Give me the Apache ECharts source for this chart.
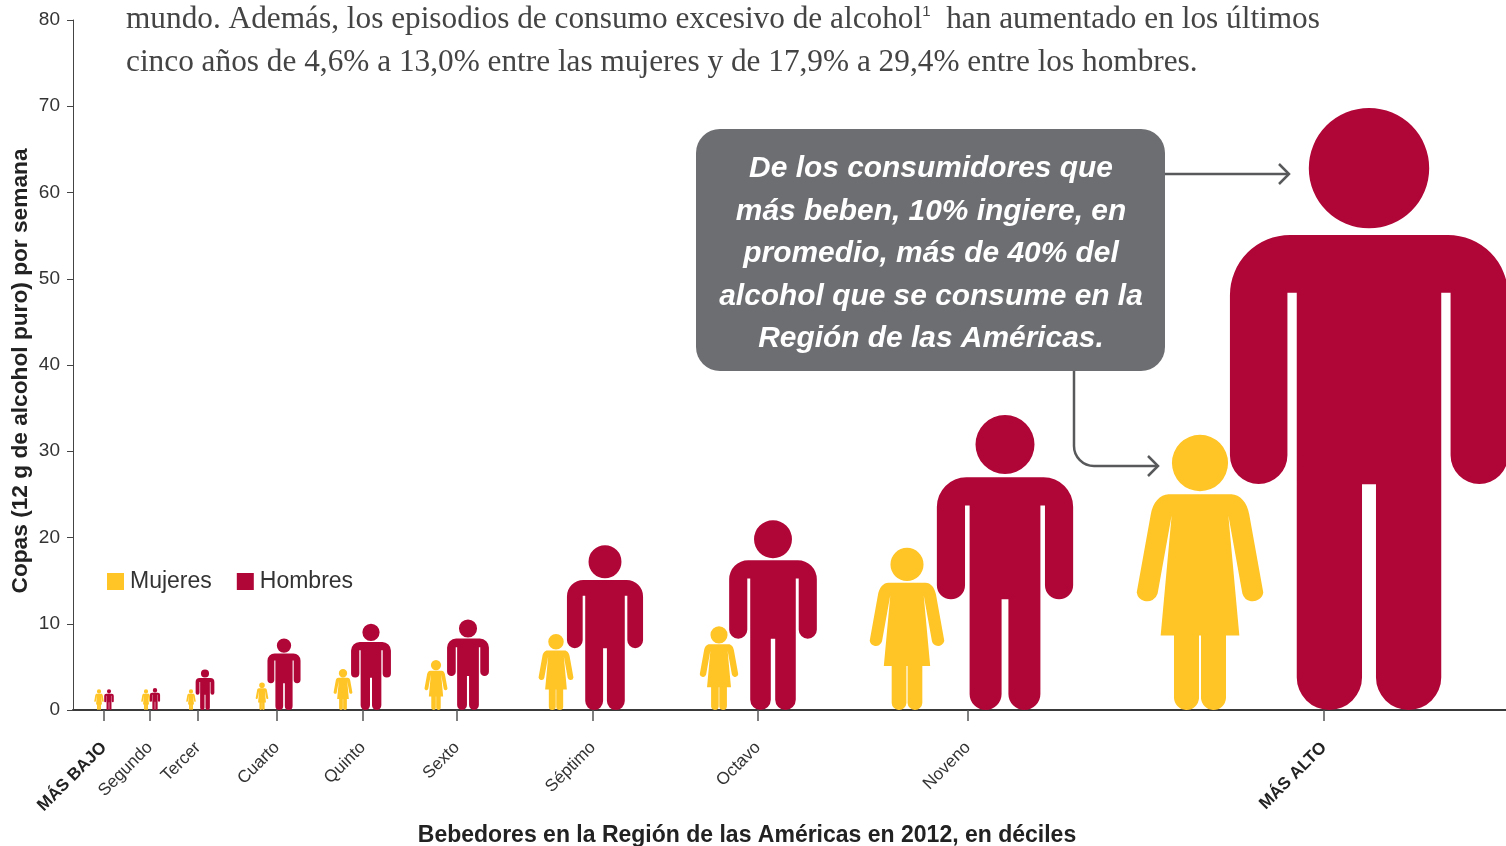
<!DOCTYPE html>
<html>
<head>
<meta charset="utf-8">
<title>Copas por semana por decil de bebedores</title>
<style>
html, body { margin: 0; padding: 0; background: #fff; }
#chart { width: 1506px; height: 846px; }
</style>
<script src="https://cdn.jsdelivr.net/npm/echarts@6/dist/echarts.min.js"></script>
</head>
<body>
<div id="chart"></div>
<script>
// Decile names and their place along the horizontal axis
const deciles = ['MÁS BAJO', 'Segundo', 'Tercer', 'Cuarto', 'Quinto', 'Sexto', 'Séptimo', 'Octavo', 'Noveno', 'MÁS ALTO'];
const tickPos = [31, 77, 125, 204, 290, 384, 520, 685, 895, 1251];
const womenPos = [26, 73, 118, 189, 270, 363, 483, 646, 834, 1127];
const menPos = [36, 82, 132, 211, 298, 395, 532, 700, 932, 1296];

// Drinks of pure alcohol per week
const womenDrinks = [2.4, 2.4, 2.4, 3.2, 4.75, 5.8, 8.8, 9.7, 18.8, 31.9];
const menDrinks = [2.4, 2.55, 4.7, 8.3, 10, 10.5, 19.1, 22, 34.2, 69.8];

const paragraph = [
  'mundo. Además, los episodios de consumo excesivo de alcohol{sup|1}  han aumentado en los últimos',
  'cinco años de 4,6% a 13,0% entre las mujeres y de 17,9% a 29,4% entre los hombres.'
];
const calloutLines = [
  'De los consumidores que',
  'más beben, 10% ingiere, en',
  'promedio, más de 40% del',
  'alcohol que se consume en la',
  'Región de las Américas.'
];

const YELLOW = '#FFC425';
const CRIMSON = '#B00537';
const INK = '#333333';
const ARROW = '#58595B';
const SANS = '"Liberation Sans", Arial, sans-serif';

// Figure glyphs, drawn on a box 1000 units tall and centred on x = 0
const manGlyph =
  'M-100 100A100 100 0 1 1 100 100A100 100 0 1 1 -100 100Z' +
  'M-131 211L131 211A100 100 0 0 1 231 311L231 577A47.75 47.75 0 0 1 135.5 577L135.5 307L120 307' +
  'L120 946A54 54 0 0 1 11.6 946L11.6 625L-11.6 625L-11.6 946A54 54 0 0 1 -120 946L-120 307' +
  'L-135.5 307L-135.5 577A47.75 47.75 0 0 1 -231 577L-231 311A100 100 0 0 1 -131 211Z';
const womanGlyph =
  'M-102 102A102 102 0 1 1 102 102A102 102 0 1 1 -102 102Z' +
  'M-114 215L114 215C145 215 172 245 179 289L230 571A39 39 0 0 1 154 575L103 291L143 727L94.5 727' +
  'L94.5 954A45.5 45.5 0 0 1 3.6 954L3.6 727L-3.6 727L-3.6 954A45.5 45.5 0 0 1 -94.5 954L-94.5 727' +
  'L-143 727L-103 291L-154 575A39 39 0 0 1 -230 571L-179 289C-172 245 -145 215 -114 215Z';

// A figure stands on the axis and its height is the value; its width follows the height
function figureSeries(name, color, glyph, aspect, xs, values) {
  return {
    name: name,
    type: 'custom',
    coordinateSystem: 'cartesian2d',
    itemStyle: { color: color },
    clip: false,
    encode: { x: 0, y: 1 },
    data: xs.map((x, i) => [x, values[i]]),
    renderItem: function (params, api) {
      const top = api.coord([api.value(0), api.value(1)]);
      const base = api.coord([api.value(0), 0]);
      const h = base[1] - top[1];
      const w = h * aspect;
      return {
        type: 'path',
        shape: { pathData: glyph, x: top[0] - w / 2, y: top[1], width: w, height: h, layout: 'cover' },
        style: { fill: color }
      };
    }
  };
}

// Open line for the callout's arrows
function arrowLine(points) {
  return { type: 'polyline', shape: { points: points }, style: { stroke: ARROW, lineWidth: 2.5, fill: null } };
}

const chart = echarts.init(document.getElementById('chart'), null, { renderer: 'canvas' });

chart.setOption({
  animation: false,
  backgroundColor: '#ffffff',
  grid: { left: 73, right: 0, top: 20, bottom: 136, outerBoundsMode: 'none' },
  legend: {
    left: 102, top: 565, itemWidth: 17, itemHeight: 17, itemGap: 25,
    icon: 'rect',
    data: ['Mujeres', 'Hombres'],
    textStyle: { fontFamily: SANS, fontSize: 23, color: INK, padding: [1, 0, 0, 1] }
  },
  xAxis: {
    type: 'value', min: 0, max: 1433,
    offset: 1,
    splitLine: { show: false },
    axisLine: { show: true, lineStyle: { color: '#3a3a3a', width: 2 } },
    axisTick: { show: true, length: 11, customValues: tickPos, lineStyle: { color: '#555', width: 1.5 } },
    axisLabel: {
      customValues: tickPos,
      rotate: 45,
      margin: 34,
      fontFamily: SANS,
      fontSize: 17.2,
      color: INK,
      formatter: function (v) {
        const i = tickPos.indexOf(v);
        const label = deciles[i];
        return (i === 0 || i === deciles.length - 1) ? '{b|' + label + '}' : label;
      },
      rich: { b: { fontFamily: SANS, fontSize: 17, fontWeight: 'bold', color: '#222' } }
    },
    name: 'Bebedores en la Región de las Américas en 2012, en déciles',
    nameLocation: 'middle',
    nameMoveOverlap: false,
    nameGap: 113,
    nameTextStyle: { fontFamily: SANS, fontWeight: 'bold', fontSize: 23, color: '#222', padding: [0, 85, 0, 0] }
  },
  yAxis: {
    type: 'value', min: 0, max: 80, interval: 10,
    splitLine: { show: false },
    axisLine: { show: true, lineStyle: { color: '#444', width: 1 } },
    axisTick: { show: true, length: 6, lineStyle: { color: '#444', width: 1 } },
    axisLabel: { margin: 13, fontFamily: SANS, fontSize: 19, color: INK },
    name: 'Copas (12 g de alcohol puro) por semana',
    nameLocation: 'middle',
    nameMoveOverlap: false,
    nameRotate: 90,
    nameGap: 41,
    nameTextStyle: { fontFamily: SANS, fontWeight: 'bold', fontSize: 22.7, color: '#222', padding: [0, 12, 0, 0] }
  },
  series: [
    figureSeries('Mujeres', YELLOW, womanGlyph, 0.46, womenPos, womenDrinks),
    figureSeries('Hombres', CRIMSON, manGlyph, 0.462, menPos, menDrinks)
  ],
  graphic: {
    elements: [
      // Body text running above the chart
      ...paragraph.map((line, i) => ({
        type: 'text', x: 126, y: 20 + i * 43,
        style: {
          text: line,
          fontFamily: '"Liberation Serif", serif',
          fontSize: 31.3,
          fill: '#444',
          verticalAlign: 'middle',
          rich: { sup: { fontSize: 15, verticalAlign: 'top', fill: '#444', padding: [0, 0, 14, 0] } }
        }
      })),
      // Callout box and its text
      {
        type: 'rect', shape: { x: 696, y: 129, width: 469, height: 242, r: 24 },
        style: { fill: '#6D6E71' }
      },
      ...calloutLines.map((line, i) => ({
        type: 'text', x: 931, y: 169 + i * 42.5,
        style: {
          text: line,
          fontFamily: SANS,
          fontSize: 29.9,
          fontWeight: 'bold',
          fontStyle: 'italic',
          fill: '#fff',
          align: 'center',
          verticalAlign: 'middle'
        }
      })),
      // Arrows from the callout to the top decile's figures
      arrowLine([[1165, 174], [1289, 174]]),
      arrowLine([[1279, 164], [1289, 174], [1279, 184]]),
      arrowLine([[1074, 371], [1074, 446]]),
      {
        type: 'arc',
        shape: { cx: 1094, cy: 446, r: 20, startAngle: Math.PI / 2, endAngle: Math.PI, clockwise: true },
        style: { stroke: ARROW, lineWidth: 2.5, fill: null }
      },
      arrowLine([[1094, 466], [1158, 466]]),
      arrowLine([[1148, 456], [1158, 466], [1148, 476]])
    ]
  }
});
</script>
</body>
</html>
